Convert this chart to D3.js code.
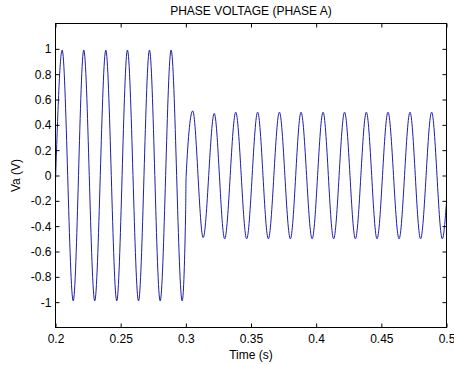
<!DOCTYPE html>
<html>
<head>
<meta charset="utf-8">
<script src="https://cdn.jsdelivr.net/npm/d3@7"></script>
<style>
  body { margin: 0; background: #fff; }
  svg { display: block; font-family: Arial, 'Liberation Sans', sans-serif; }
</style>
</head>
<body>
<svg class="chart" width="454" height="365"></svg>
<script>
/* global d3 */

// plot box edges (px)
const boxLeft = 55.5
const boxRight = 446.5
const boxTop = 23.5
const boxBottom = 327.5

// axis ticks and their labels
const xTicks = [0.2, 0.25, 0.3, 0.35, 0.4, 0.45, 0.5]
const xTickLabels = ['0.2', '0.25', '0.3', '0.35', '0.4', '0.45', '0.5']
const yTicks = [-1, -0.8, -0.6, -0.4, -0.2, 0, 0.2, 0.4, 0.6, 0.8, 1]
const yTickLabels = ['-1', '-0.8', '-0.6', '-0.4', '-0.2', '0', '0.2', '0.4', '0.6', '0.8', '1']

// turning points of the phase A waveform
// (time in s, voltage in V), the step happens at t = 0.3
const waveTimes = [
  0.2000, 0.2051, 0.2136, 0.2217, 0.2301, 0.2386, 0.2470, 0.2552, 0.2637,
  0.2721, 0.2803, 0.2887, 0.2972, 0.2998, 0.3002, 0.3053, 0.3133, 0.3218,
  0.3298, 0.3383, 0.3467, 0.3551, 0.3633, 0.3718, 0.3802, 0.3884, 0.3969,
  0.4053, 0.4134, 0.4218, 0.4301, 0.4385, 0.4467, 0.4551, 0.4636, 0.4720,
  0.4801, 0.4886, 0.4968, 0.5000
]
const waveValues = [
  -0.04, 0.99, -0.99, 0.99, -0.99, 0.99, -0.99, 0.99, -0.99,
  0.99, -0.99, 0.99, -0.99, -0.32, -0.01, 0.51, -0.49, 0.49,
  -0.50, 0.50, -0.50, 0.50, -0.50, 0.50, -0.50, 0.50, -0.50,
  0.50, -0.50, 0.50, -0.50, 0.50, -0.50, 0.50, -0.50, 0.50,
  -0.50, 0.50, -0.50, -0.21
]

const svg = d3.select('.chart')

const x = d3.scaleLinear()
    .domain([0.2, 0.5])
    .range([boxLeft, boxRight])

const y = d3.scaleLinear()
    .domain([-1.2, 1.2])
    .range([boxBottom, boxTop])

// waveform, smoothed between turning points by the curve generator
const line = d3.line()
    .x(d => x(d[0]))
    .y(d => y(d[1]))
    .curve(d3.curveMonotoneX)

svg.append('path')
    .datum(d3.zip(waveTimes, waveValues))
    .attr('d', line)
    .attr('fill', 'none')
    .attr('stroke', '#1e1eaa')
    .attr('stroke-width', 1)

// axes, ticks point inwards like matlab
const styleAxis = function (sel) {
  sel.select('.domain').remove()
  sel.selectAll('line').attr('stroke', '#000')
  sel.selectAll('text').attr('fill', '#000').style('font-size', '12px')
}

svg.append('g')
    .attr('transform', 'translate(0,' + boxBottom + ')')
    .call(d3.axisBottom(x).tickValues(xTicks)
      .tickFormat((d, i) => xTickLabels[i])
      .tickSizeInner(-4).tickSizeOuter(0).tickPadding(7))
    .call(styleAxis)

svg.append('g')
    .attr('transform', 'translate(0,' + boxTop + ')')
    .call(d3.axisTop(x).tickValues(xTicks).tickFormat('')
      .tickSizeInner(-4).tickSizeOuter(0))
    .call(styleAxis)

svg.append('g')
    .attr('transform', 'translate(' + boxLeft + ',0)')
    .call(d3.axisLeft(y).tickValues(yTicks)
      .tickFormat((d, i) => yTickLabels[i])
      .tickSizeInner(-4).tickSizeOuter(0).tickPadding(4))
    .call(styleAxis)

svg.append('g')
    .attr('transform', 'translate(' + boxRight + ',0)')
    .call(d3.axisRight(y).tickValues(yTicks).tickFormat('')
      .tickSizeInner(-4).tickSizeOuter(0))
    .call(styleAxis)

// box around plot
svg.append('rect')
    .attr('x', boxLeft)
    .attr('y', boxTop)
    .attr('width', boxRight - boxLeft)
    .attr('height', boxBottom - boxTop)
    .attr('fill', 'none')
    .attr('stroke', '#000')

// title and axis labels
svg.append('text')
    .attr('x', (boxLeft + boxRight) / 2)
    .attr('y', 15)
    .attr('text-anchor', 'middle')
    .style('font-size', '12px')
    .text('PHASE VOLTAGE (PHASE A)')

svg.append('text')
    .attr('x', (boxLeft + boxRight) / 2)
    .attr('y', 358.5)
    .attr('text-anchor', 'middle')
    .style('font-size', '12px')
    .text('Time (s)')

svg.append('text')
    .attr('transform', 'translate(20,' + (boxTop + boxBottom) / 2 + ') rotate(-90)')
    .attr('text-anchor', 'middle')
    .style('font-size', '12px')
    .text('Va (V)')
</script>
</body>
</html>
